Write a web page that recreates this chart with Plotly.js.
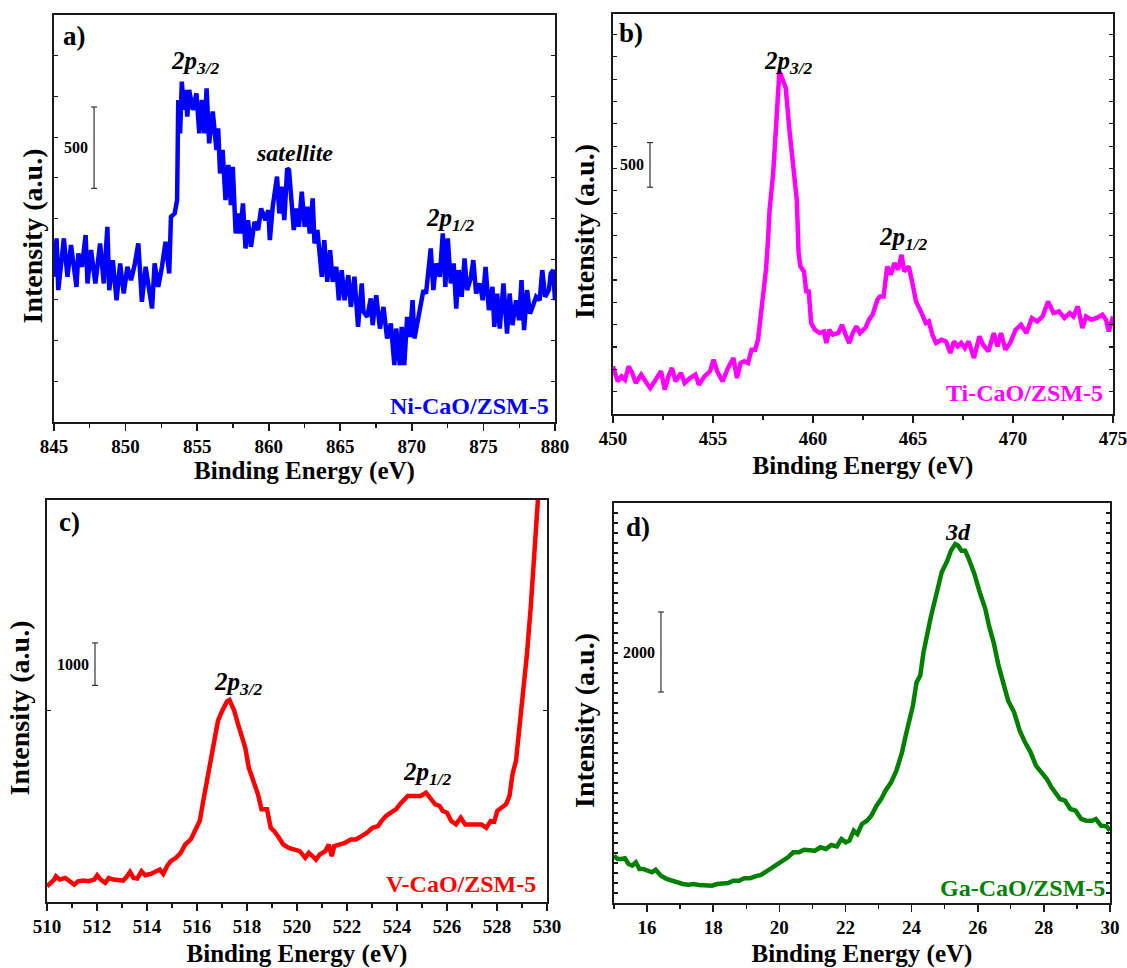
<!DOCTYPE html>
<html>
<head>
<meta charset="utf-8">
<script src="https://cdn.plot.ly/plotly-3.0.1.min.js"></script>
<style>html,body{margin:0;padding:0;background:#fff;}#chart{width:1127px;height:968px;}</style>
</head>
<body>
<div id="chart"></div>
<script>
// ---------------- DATA ----------------
const sampleNames = ['Ni-CaO/ZSM-5', 'Ti-CaO/ZSM-5', 'V-CaO/ZSM-5', 'Ga-CaO/ZSM-5'];
const panelLetters = ['a)', 'b)', 'c)', 'd)'];
const scaleBarValues = [500, 500, 1000, 2000];

const niEnergy = [845.00,845.18,845.30,845.56,845.69,845.94,846.19,846.57,846.70,846.95,
847.21,847.34,847.59,847.89,848.22,848.48,848.73,848.86,849.11,849.37,
849.62,849.87,850.13,850.38,850.63,850.89,851.14,851.40,851.65,851.85,
852.03,852.28,852.54,852.79,853.05,853.17,853.43,853.60,853.68,853.81,
853.93,854.06,854.19,854.31,854.44,854.70,854.95,855.15,855.33,855.51,
855.66,855.84,856.09,856.35,856.47,856.60,856.78,856.98,857.18,857.36,
857.49,857.69,857.87,858.00,858.20,858.38,858.55,858.76,859.01,859.26,
859.47,859.77,859.97,860.08,860.28,860.41,860.58,860.74,860.91,861.09,
861.29,861.42,861.55,861.75,861.93,862.11,862.31,862.51,862.69,862.87,
863.07,863.20,863.40,863.58,863.71,863.88,864.09,864.29,864.47,864.72,
864.90,865.10,865.30,865.56,865.74,865.99,866.24,866.50,866.62,866.88,
867.13,867.26,867.51,867.77,868.02,868.27,868.53,868.78,868.91,869.16,
869.29,869.47,869.67,869.87,870.05,870.18,870.43,870.63,870.81,870.99,
871.14,871.32,871.50,871.70,871.95,872.16,872.34,872.51,872.72,872.92,
873.10,873.27,873.48,873.68,873.86,874.11,874.29,874.49,874.75,874.95,
875.15,875.38,875.63,875.76,875.96,876.14,876.40,876.65,876.83,877.03,
877.28,877.49,877.66,877.84,878.05,878.25,878.43,878.68,878.93,879.11,
879.31,879.57,879.70,879.87,880.00];
const niIntensity = [892,1128,810,1035,1128,892,1087,830,1035,953,
1148,851,1056,851,1097,851,1199,810,994,748,
974,789,953,871,964,1097,738,953,810,697,
974,830,953,1107,912,1261,1281,1363,1978,1773,
2091,1917,2040,1876,2040,1917,2019,1773,1978,1773,
2050,1712,1907,1671,1804,1527,1671,1363,1579,1333,
1568,1158,1281,1158,1343,1066,1240,1076,1230,1179,
1312,1240,1302,1117,1322,1404,1507,1281,1445,1240,
1558,1548,1363,1179,1312,1199,1415,1199,1322,1158,
1374,1097,1179,1035,892,1117,861,1056,861,953,
748,933,748,902,707,892,584,851,677,646,
759,595,779,574,707,513,605,349,574,349,
584,349,646,523,748,513,625,748,810,789,
953,1066,810,974,892,1158,830,1128,851,974,
697,933,769,1005,810,882,994,789,851,748,
953,687,830,584,789,574,851,543,789,595,
748,625,871,564,810,666,707,769,748,933,
769,810,912,933,748];

const tiEnergy = [450.00,450.24,450.42,450.60,450.78,450.96,451.14,451.41,451.68,451.86,
452.13,452.40,452.59,452.77,452.95,453.13,453.40,453.58,453.85,454.12,
454.30,454.58,454.85,455.03,455.21,455.48,455.75,456.02,456.20,456.38,
456.56,456.75,456.93,457.11,457.25,457.38,457.56,457.65,457.74,457.83,
458.01,458.14,458.23,458.32,458.46,458.64,458.82,459.01,459.19,459.28,
459.37,459.55,459.67,459.78,459.91,460.09,460.33,460.54,460.67,460.81,
460.99,461.27,461.45,461.63,461.81,461.99,462.17,462.35,462.62,462.80,
462.98,463.22,463.35,463.53,463.71,463.89,464.07,464.25,464.43,464.56,
464.79,464.97,465.15,465.43,465.64,465.79,465.97,466.15,466.42,466.65,
466.87,467.05,467.23,467.41,467.59,467.78,468.05,468.32,468.50,468.77,
469.04,469.22,469.40,469.62,469.86,470.13,470.40,470.67,470.94,471.21,
471.48,471.75,472.03,472.30,472.57,472.84,473.02,473.24,473.47,473.65,
473.92,474.19,474.47,474.65,474.79,475.00];
const tiIntensity = [534,366,422,384,534,459,347,440,347,291,
384,478,272,422,515,366,459,347,403,440,
328,422,478,608,478,366,515,627,403,571,
590,571,720,720,832,1056,1429,1616,1914,2287,
2698,3145,3593,3835,3761,3649,3183,2772,2399,1802,
1653,1597,1354,1392,1019,944,907,925,795,944,
888,907,1000,888,795,907,981,907,963,1056,
1112,1280,1317,1317,1653,1560,1690,1616,1783,1597,
1653,1466,1261,1130,1019,1037,888,795,832,813,
683,813,757,795,739,813,627,869,776,701,
907,757,907,720,795,944,1000,907,1075,1037,
1093,1261,1130,1149,1075,1130,1093,1205,963,1093,
1056,1075,1112,1056,925,1093];

const vEnergy = [510.00,510.15,510.29,510.36,510.51,510.73,510.95,511.09,511.24,511.45,
511.67,511.89,512.01,512.15,512.33,512.47,512.65,512.84,513.05,513.20,
513.32,513.46,513.61,513.78,513.93,514.15,514.36,514.51,514.65,514.80,
514.95,515.16,515.35,515.53,515.75,515.96,516.11,516.25,516.40,516.55,
516.69,516.84,517.01,517.20,517.30,517.49,517.64,517.78,517.93,518.07,
518.26,518.44,518.58,518.80,518.95,519.09,519.28,519.45,519.67,519.89,
520.11,520.33,520.47,520.62,520.76,520.91,521.13,521.27,521.39,521.49,
521.71,521.93,522.15,522.36,522.58,522.80,523.02,523.24,523.38,523.56,
523.75,523.96,524.11,524.25,524.43,524.69,524.95,525.16,525.35,525.53,
525.71,525.83,526.00,526.17,526.36,526.55,526.73,526.95,527.16,527.38,
527.57,527.75,527.89,528.01,528.18,528.36,528.50,528.62,528.76,528.91,
529.05,529.20,529.35,529.49,529.61,529.78];
const vIntensity = [870,949,1028,1106,1028,1067,988,909,988,1004,
988,1028,1130,1028,949,1067,1028,1028,1004,1106,
1209,1067,1051,1224,1130,1161,1224,1264,1161,1343,
1461,1539,1657,1854,1972,2248,2405,2878,3390,3823,
4295,4768,5004,5224,5256,5004,4689,4374,4138,3665,
3311,3035,2681,2681,2248,2169,2012,1854,1776,1736,
1697,1539,1657,1579,1500,1618,1697,1854,1579,1815,
1854,1894,1972,1972,2051,2130,2248,2287,2405,2524,
2602,2681,2799,2878,2996,2996,2996,3075,2917,2799,
2760,2642,2602,2405,2327,2484,2327,2327,2327,2327,
2248,2405,2390,2642,2720,2799,2996,3508,3823,4610,
5398,6343,7445,8705,9965,11225];

const gaEnergy = [15.00,15.11,15.22,15.33,15.44,15.55,15.66,15.77,15.88,16.04,
16.15,16.26,16.42,16.59,16.75,16.92,17.08,17.25,17.41,17.57,
17.74,17.96,18.12,18.29,18.45,18.61,18.78,18.94,19.11,19.27,
19.44,19.60,19.76,19.93,20.09,20.26,20.42,20.59,20.75,20.91,
21.08,21.24,21.41,21.57,21.74,21.88,22.01,22.12,22.25,22.36,
22.50,22.65,22.78,22.94,23.08,23.21,23.38,23.54,23.71,23.82,
23.93,24.04,24.15,24.26,24.36,24.47,24.58,24.69,24.80,24.91,
25.08,25.19,25.32,25.41,25.51,25.62,25.73,25.90,26.06,26.23,
26.34,26.48,26.63,26.77,26.92,27.10,27.27,27.43,27.60,27.76,
27.92,28.09,28.23,28.36,28.49,28.64,28.80,28.96,29.13,29.29,
29.46,29.57,29.73,29.90,30.00];
const gaIntensity = [1183,1100,1100,1117,975,933,1017,850,850,808,
767,833,683,600,558,492,475,458,475,450,
450,433,475,500,500,558,558,617,617,667,
700,783,867,975,1033,1142,1267,1267,1333,1333,
1308,1392,1350,1450,1417,1600,1517,1558,1808,1725,
1975,2058,2183,2433,2600,2808,3017,3308,3767,4183,
4600,4933,5517,5683,6267,6767,7142,7517,7933,8267,
8558,8808,8975,8933,8808,8808,8600,8225,7767,7350,
6933,6517,5933,5475,5058,4767,4308,4017,3767,3433,
3267,3100,2892,2767,2600,2558,2350,2308,2100,2058,
2058,2100,1933,1917,1808];

// ---------------- LAYOUT CONFIG ----------------
const W = 1127, H = 968;
const FONT = 'Liberation Serif';
const INK = '#1a1a1a';

const panels = [
  {x: niEnergy, y: niIntensity, color: '#0000FF', px: [54, 555], py: [15, 422], xr: [845, 880], yr: [0, 2500],
   xd: 5, xm: 2.5, yd: 250, ytick0: 0, bar: {x: 847.8, y0: 1435}, labelX: 551, labelY: 406, letter: [61, 36],
   ytitlePad: 5, ystandoff: 1, xstandoff: 0,
   peaks: [{t: '2p', s: '3/2', x: 854.85, y: 2211}, {t: 'satellite', x: 861.77, y: 1652}, {t: '2p', s: '1/2', x: 872.67, y: 1241}]},
  {x: tiEnergy, y: tiIntensity, color: '#FF00FF', px: [613, 1113], py: [14, 414], xr: [450, 475], yr: [0, 4480],
   xd: 5, xm: 2.5, yd: 250, ytick0: 0, bar: {x: 451.85, y0: 2540}, labelX: 1105, labelY: 393, letter: [617, 33],
   ytitlePad: 5, ystandoff: 8, xstandoff: 8,
   peaks: [{t: '2p', s: '3/2', x: 458.75, y: 3942}, {t: '2p', s: '1/2', x: 464.5, y: 1971}]},
  {x: vEnergy, y: vIntensity, color: '#FF0000', px: [47, 547], py: [500, 902], xr: [510, 530], yr: [500, 9965],
   xd: 2, xm: 1, yd: 5000, ytick0: 0, bar: {x: 511.92, y0: 5600}, labelX: 538, labelY: 884, letter: [57, 522],
   ytitlePad: 2, ystandoff: 7, xstandoff: 14,
   peaks: [{t: '2p', s: '3/2', x: 517.64, y: 5633}, {t: '2p', s: '1/2', x: 525.2, y: 3514}]},
  {x: gaEnergy, y: gaIntensity, color: '#008000', px: [614, 1110], py: [503, 903], xr: [15, 30], yr: [0, 10000],
   xd: 2, xm: 1, yd: 250, ytick0: 0, bar: {x: 16.42, y0: 5275}, labelX: 1107, labelY: 888, letter: [624, 527],
   ytitlePad: 5, ystandoff: 9, xstandoff: 14,
   peaks: [{t: '3d', x: 25.40, y: 9275}]}
];

const traces = [];
const layout = {
  width: W, height: H,
  margin: {l: 0, r: 0, t: 0, b: 0},
  paper_bgcolor: '#fff', plot_bgcolor: '#fff',
  showlegend: false,
  font: {family: FONT, color: '#000'},
  shapes: [], annotations: []
};

panels.forEach((p, i) => {
  const n = i + 1;
  const xa = n === 1 ? 'x' : 'x' + n;
  const ya = n === 1 ? 'y' : 'y' + n;
  const xKey = n === 1 ? 'xaxis' : 'xaxis' + n;
  const yKey = n === 1 ? 'yaxis' : 'yaxis' + n;
  const topKey = 'xaxis' + (n + 4);

  traces.push({x: p.x, y: p.y, xaxis: xa, yaxis: ya, type: 'scatter', mode: 'lines',
    line: {color: p.color, width: 4.5}, name: sampleNames[i], hoverinfo: 'skip'});

  layout[xKey] = {
    domain: [p.px[0] / W, p.px[1] / W], range: p.xr, anchor: ya,
    showline: true, linecolor: INK, linewidth: 1.6, mirror: true,
    ticks: 'outside', ticklen: 7, tickwidth: 1.6, tickcolor: INK, tick0: 0, dtick: p.xd,
    minor: {ticks: 'outside', ticklen: 4, tickwidth: 1.4, tickcolor: INK, dtick: p.xm, showgrid: false},
    showgrid: false, zeroline: false, ticklabeloverflow: 'allow',
    tickfont: {family: FONT, size: 19, weight: 700, color: '#000'},
    title: {text: 'Binding Energy (eV)', font: {family: FONT, size: 25, weight: 700, color: '#000'}, standoff: p.xstandoff}
  };
  // inward tick marks along the top frame
  layout[topKey] = {
    overlaying: xa, anchor: ya, side: 'top', range: p.xr, matches: xa,
    showline: false, ticks: 'inside', ticklen: 3, tickwidth: 1.2, tickcolor: INK, tick0: 0, dtick: p.xd,
    minor: {ticks: 'inside', ticklen: 2.5, tickwidth: 1.2, tickcolor: INK, dtick: p.xm, showgrid: false},
    showticklabels: false, showgrid: false, zeroline: false
  };
  layout[yKey] = {
    domain: [1 - p.py[1] / H, 1 - p.py[0] / H], range: p.yr, anchor: xa,
    showline: true, linecolor: INK, linewidth: 1.6, mirror: 'ticks',
    ticks: 'inside', ticklen: 4, tickwidth: 1.2, tickcolor: INK, tick0: p.ytick0, dtick: p.yd,
    showticklabels: false, showgrid: false, zeroline: false,
    title: {text: 'Intensity (a.u.)' + '\u00a0'.repeat(p.ytitlePad) + '\u200b',
      font: {family: FONT, size: 28, weight: 700, color: '#000'}, standoff: p.ystandoff}
  };

  // scale bar (length = scaleBarValues[i] in data units)
  const xPerPx = (p.xr[1] - p.xr[0]) / (p.px[1] - p.px[0]);
  const y1 = p.bar.y0 + scaleBarValues[i];
  const cap = 3 * xPerPx;
  const lineStyle = {color: '#333', width: 1.2};
  layout.shapes.push({type: 'line', xref: xa, yref: ya, x0: p.bar.x, x1: p.bar.x, y0: p.bar.y0, y1: y1, line: lineStyle});
  layout.shapes.push({type: 'line', xref: xa, yref: ya, x0: p.bar.x - cap, x1: p.bar.x + cap, y0: p.bar.y0, y1: p.bar.y0, line: lineStyle});
  layout.shapes.push({type: 'line', xref: xa, yref: ya, x0: p.bar.x - cap, x1: p.bar.x + cap, y0: y1, y1: y1, line: lineStyle});
  layout.annotations.push({xref: xa, yref: ya, x: p.bar.x, y: (p.bar.y0 + y1) / 2, xanchor: 'right', yanchor: 'middle',
    xshift: -4, text: '<b>' + scaleBarValues[i] + '</b>', showarrow: false,
    font: {family: FONT, size: 16, color: '#000'}});

  // peak labels
  p.peaks.forEach(pk => {
    const txt = pk.s ? '<b><i>' + pk.t + '<sub>' + pk.s + '</sub></i></b>' : '<b><i>' + pk.t + '</i></b>';
    layout.annotations.push({xref: xa, yref: ya, x: pk.x, y: pk.y, text: txt, showarrow: false,
      xanchor: 'center', yanchor: 'middle', font: {family: FONT, size: pk.s ? 25 : 24, color: '#000'}});
  });

  // panel letter
  layout.annotations.push({xref: 'paper', yref: 'paper', x: p.letter[0] / W, y: 1 - p.letter[1] / H,
    xanchor: 'left', yanchor: 'middle', text: '<b>' + panelLetters[i] + '</b>', showarrow: false,
    font: {family: FONT, size: 27, color: '#000'}});

  // sample name
  layout.annotations.push({xref: 'paper', yref: 'paper', x: p.labelX / W, y: 1 - p.labelY / H,
    xanchor: 'right', yanchor: 'middle', text: '<b>' + sampleNames[i] + '</b>', showarrow: false,
    font: {family: FONT, size: 24, color: p.color}});
});

Plotly.newPlot('chart', traces, layout, {staticPlot: true, displayModeBar: false});
</script>
</body>
</html>
